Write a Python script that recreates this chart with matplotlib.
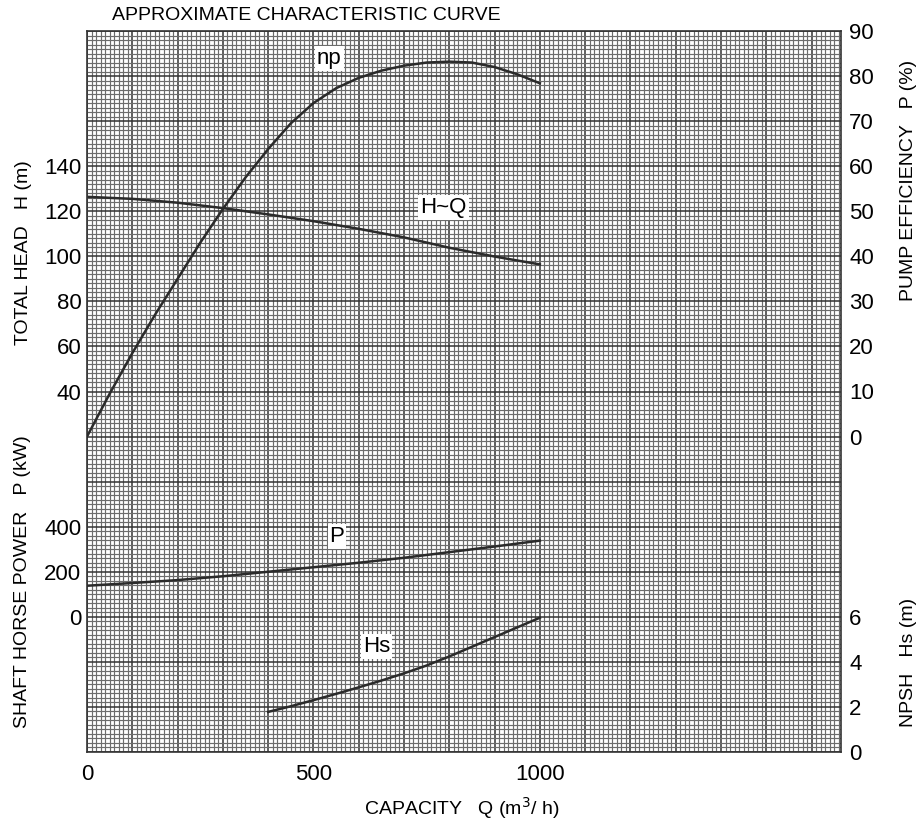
import matplotlib
matplotlib.use("Agg")
import matplotlib.pyplot as plt
from matplotlib.ticker import MultipleLocator, FixedLocator, FuncFormatter

plt.rcParams['font.family'] = ['Liberation Sans', 'DejaVu Sans']

# curve data
q_eff = [0, 50, 100, 150, 200, 250, 300, 350, 400, 450, 500, 550, 600, 650,
         700, 750, 800, 850, 900, 950, 1000]
eff = [0, 9.5, 18.5, 27, 35, 43, 50.5, 57.5, 63.8, 69.5, 74, 77.3, 79.6, 81.2,
       82.3, 83.0, 83.2, 83.0, 82.0, 80.4, 78.4]

q_head = [0, 100, 200, 300, 400, 500, 600, 700, 800, 900, 1000]
head = [126.4, 125.5, 123.8, 121.4, 118.6, 115.6, 112.2, 108.4, 103.8, 99.9, 96.4]

q_power = [0, 100, 200, 300, 400, 500, 600, 700, 800, 900, 1000]
power = [138, 150, 163, 180, 200, 220, 240, 262, 287, 312, 338]

q_npsh = [400, 450, 500, 550, 600, 650, 700, 750, 800, 850, 900, 950, 1000]
npsh = [1.78, 2.03, 2.3, 2.58, 2.87, 3.17, 3.49, 3.84, 4.24, 4.67, 5.1, 5.53, 5.96]

x_ticks = [0, 500, 1000]
head_ticks = [40, 60, 80, 100, 120, 140]
power_ticks = [0, 200, 400]
eff_ticks = [0, 10, 20, 30, 40, 50, 60, 70, 80, 90]
npsh_ticks = [0, 2, 4, 6]

line_col = '#2b2b2b'
fs_tick = 16
fs_lab = 14

fig = plt.figure(figsize=(9.22, 8.32), dpi=100)
ax = fig.add_axes([87 / 922, 80 / 832, 754 / 922, 721 / 832])

# graph paper grid on the head axis (16 rows of 20 m)
ax.set_xlim(0, 1665)
ax.set_ylim(-120, 200)
ax.xaxis.set_major_locator(MultipleLocator(100))
ax.xaxis.set_minor_locator(MultipleLocator(10))
ax.yaxis.set_major_locator(MultipleLocator(20))
ax.yaxis.set_minor_locator(MultipleLocator(2))
ax.grid(which='minor', color='#6c6c6c', lw=0.85)
ax.grid(which='major', color='#333333', lw=1.1)
ax.set_axisbelow(True)
ax.xaxis.set_major_formatter(FuncFormatter(lambda v, p: f'{v:.0f}' if round(v) in x_ticks else ''))
ax.yaxis.set_major_formatter(FuncFormatter(lambda v, p: f'{v:.0f}' if round(v) in head_ticks else ''))
ax.tick_params(which='both', length=0)
ax.tick_params(axis='x', labelsize=fs_tick, pad=9)
ax.tick_params(axis='y', labelsize=fs_tick, pad=4)
for s in ax.spines.values():
    s.set_color('#333333')
    s.set_linewidth(1.2)

ax.plot(q_head, head, color=line_col, lw=1.8)

# shaft power (left side, lower)
ax_p = ax.twinx()
ax_p.set_ylim(-600, 2600)
ax_p.yaxis.tick_left()
ax_p.yaxis.set_major_locator(FixedLocator(power_ticks))
ax_p.tick_params(length=0, labelsize=fs_tick, pad=4)
ax_p.plot(q_power, power, color=line_col, lw=1.8)

# efficiency (right side, upper)
ax_e = ax.twinx()
ax_e.set_ylim(-70, 90)
ax_e.yaxis.set_major_locator(FixedLocator(eff_ticks))
ax_e.tick_params(length=0, labelsize=fs_tick, pad=6)
ax_e.plot(q_eff, eff, color=line_col, lw=1.8)

# NPSH (right side, lower)
ax_n = ax.twinx()
ax_n.set_ylim(0, 32)
ax_n.yaxis.set_major_locator(FixedLocator(npsh_ticks))
ax_n.tick_params(length=0, labelsize=fs_tick, pad=6)
ax_n.plot(q_npsh, npsh, color=line_col, lw=1.8)

for a in (ax_p, ax_e, ax_n):
    a.patch.set_visible(False)
    for s in a.spines.values():
        s.set_visible(False)

box = dict(facecolor='white', edgecolor='none', pad=1.5)
ax_e.text(535, 84, 'np', fontsize=16, ha='center', va='center', bbox=box)
ax.text(787, 121.8, 'H~Q', fontsize=16, ha='center', va='center', bbox=box)
ax_p.text(552, 356, 'P', fontsize=16, ha='center', va='center', bbox=box)
ax_n.text(639, 4.67, 'Hs', fontsize=16, ha='center', va='center', bbox=box)

fig.text(112 / 922, 1 - 15 / 832, 'APPROXIMATE CHARACTERISTIC CURVE', fontsize=fs_lab,
         ha='left', va='center')
fig.text(23 / 922, 1 - 253 / 832, 'TOTAL HEAD   H (m)', fontsize=fs_lab,
         rotation=90, ha='center', va='center')
fig.text(23 / 922, 1 - 582 / 832, 'SHAFT HORSE POWER   P (kW)', fontsize=fs_lab,
         rotation=90, ha='center', va='center')
fig.text(908 / 922, 1 - 180 / 832, 'PUMP EFFICIENCY   P (%)', fontsize=fs_lab,
         rotation=90, ha='center', va='center')
fig.text(908 / 922, 1 - 662 / 832, 'NPSH   Hs (m)', fontsize=fs_lab,
         rotation=90, ha='center', va='center')
fig.text(462 / 922, 1 - 808 / 832, 'CAPACITY   Q (m$^3$/ h)', fontsize=fs_lab,
         ha='center', va='center')

fig.savefig('out.png', dpi=100)
